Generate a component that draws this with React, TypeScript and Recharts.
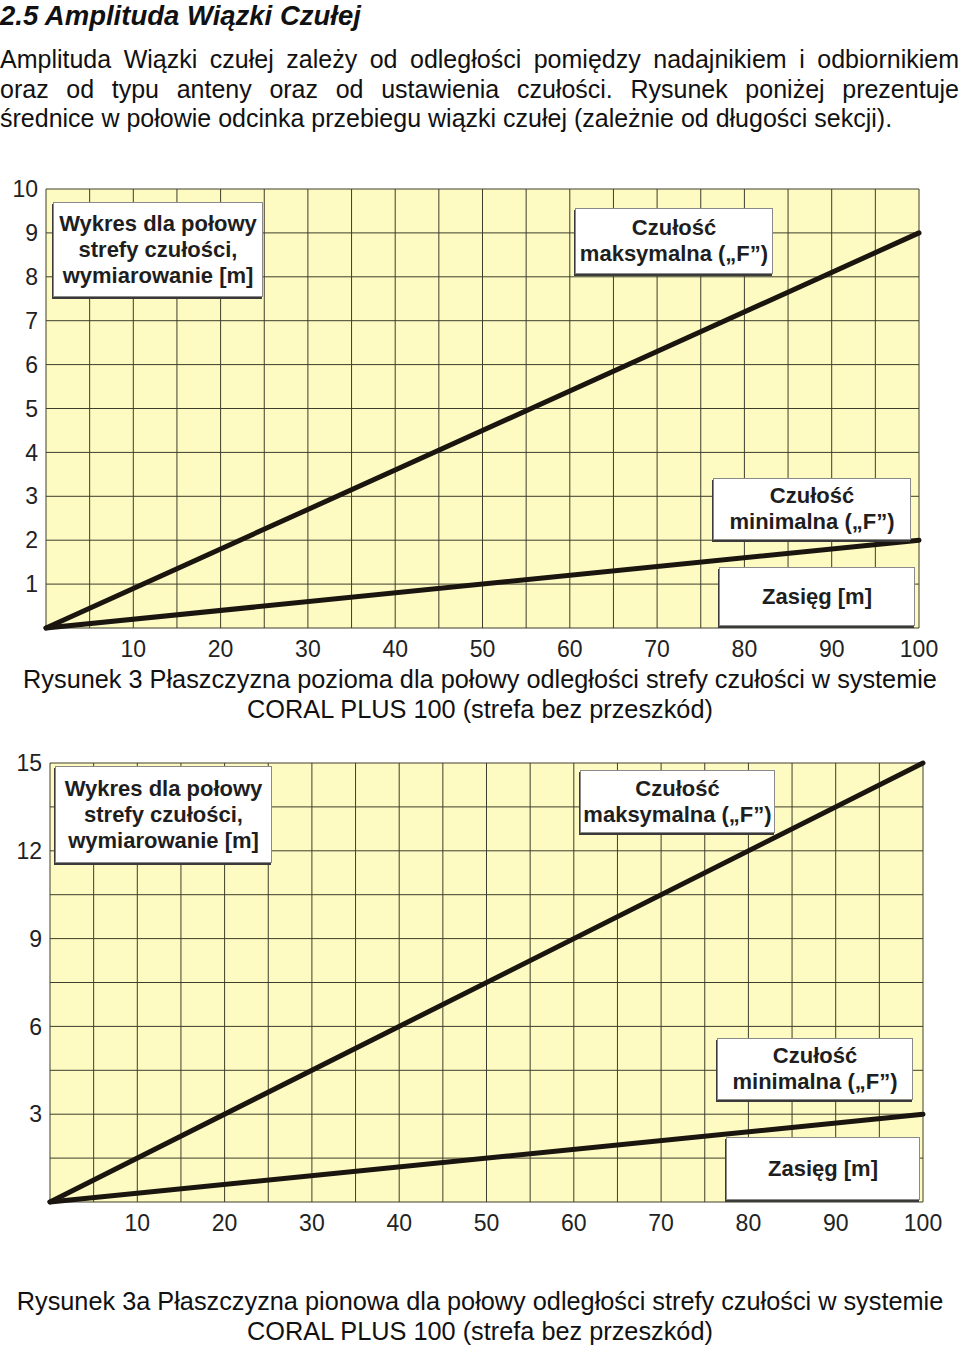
import React from "react";
import { LineChart, Line, XAxis, YAxis, CartesianGrid } from "recharts";

// odległość [m] - punkty końcowe prostych
const DIST = [0, 100];

// Rysunek 3 - płaszczyzna pozioma
const MAX_H = [0, 9];
const MIN_H = [0, 2];

// Rysunek 3a - płaszczyzna pionowa
const MAX_V = [0, 15];
const MIN_V = [0, 3];

const X_TICKS = [10, 20, 30, 40, 50, 60, 70, 80, 90, 100];
const X_GRID = [0, 5, 10, 15, 20, 25, 30, 35, 40, 45, 50, 55, 60, 65, 70, 75, 80, 85, 90, 95, 100];

const Y_TICKS_H = [1, 2, 3, 4, 5, 6, 7, 8, 9, 10];
const Y_GRID_H = [0, 1, 2, 3, 4, 5, 6, 7, 8, 9, 10];

const Y_TICKS_V = [3, 6, 9, 12, 15];
const Y_GRID_V = [0, 1.5, 3, 4.5, 6, 7.5, 9, 10.5, 12, 13.5, 15];

const FONT = "'Liberation Sans', Arial, Helvetica, sans-serif";
const tickStyle = { fontSize: 23, fill: "#222", fontFamily: FONT };

function Box({ left, top, width, height, lines }: any) {
  return (
    <div
      style={{
        position: "absolute",
        left,
        top,
        width,
        height,
        boxSizing: "border-box",
        background: "#fff",
        border: "1px solid #8a8a8a",
        boxShadow: "-1px 2px 0 #3a3a3a",
        display: "flex",
        flexDirection: "column",
        justifyContent: "center",
        alignItems: "center",
        fontFamily: FONT,
        fontWeight: "bold",
        fontSize: 22,
        lineHeight: "26px",
        color: "#1e1e1e",
        textAlign: "center",
        zIndex: 2
      }}
    >
      {lines.map((l: string, i: number) => (
        <div key={i}>{l}</div>
      ))}
    </div>
  );
}

function Chart({ top, maxV, minV, yMax, yTicks, yGrid, marginTop, marginRight, yWidth, xHeight }: any) {
  const rows = DIST.map((d, i) => ({ d, max: maxV[i], min: minV[i] }));
  return (
    <div style={{ position: "absolute", left: 0, top }}>
      <LineChart
        width={960}
        height={500}
        data={rows}
        margin={{ top: marginTop, right: marginRight, bottom: 0, left: 0 }}
      >
        <CartesianGrid
          fill="#fdfbc2"
          fillOpacity={1}
          stroke="#3e3e2c"
          strokeWidth={1}
          verticalValues={X_GRID}
          horizontalValues={yGrid}
        />
        <XAxis
          dataKey="d"
          type="number"
          domain={[0, 100]}
          ticks={X_TICKS}
          axisLine={false}
          tickLine={false}
          tickMargin={7}
          height={xHeight}
          tick={tickStyle}
          interval={0}
        />
        <YAxis
          type="number"
          domain={[0, yMax]}
          ticks={yTicks}
          axisLine={false}
          tickLine={false}
          width={yWidth}
          tick={tickStyle}
          interval={0}
        />
        <Line
          dataKey="max"
          type="linear"
          stroke="#1b150f"
          strokeWidth={5}
          strokeLinecap="round"
          dot={false}
          isAnimationActive={false}
        />
        <Line
          dataKey="min"
          type="linear"
          stroke="#1b150f"
          strokeWidth={5}
          strokeLinecap="round"
          dot={false}
          isAnimationActive={false}
        />
      </LineChart>
    </div>
  );
}

export default function App() {
  const line = { whiteSpace: "nowrap" as const, height: 29.5 };
  return (
    <div
      style={{
        position: "absolute",
        left: 0,
        top: 0,
        width: 960,
        height: 1346,
        overflow: "hidden",
        background: "#fff",
        fontFamily: FONT,
        color: "#111"
      }}
    >
      <div
        style={{
          position: "absolute",
          left: 0,
          top: 0,
          fontSize: 27.5,
          lineHeight: "31px",
          fontWeight: "bold",
          fontStyle: "italic"
        }}
      >
        2.5 Amplituda Wiązki Czułej
      </div>

      <div
        style={{
          position: "absolute",
          left: 0,
          top: 45,
          width: 959,
          fontSize: 25,
          lineHeight: "29.5px"
        }}
      >
        <div style={{ textAlign: "justify", textAlignLast: "justify" }}>
          Amplituda Wiązki czułej zależy od odległości pomiędzy nadajnikiem i odbiornikiem
        </div>
        <div style={{ textAlign: "justify", textAlignLast: "justify" }}>
          oraz od typu anteny oraz od ustawienia czułości. Rysunek poniżej prezentuje
        </div>
        <div style={line}>
          średnice w połowie odcinka przebiegu wiązki czułej (zależnie od długości sekcji).
        </div>
      </div>

      <Chart
        top={170}
        maxV={MAX_H}
        minV={MIN_H}
        yMax={10}
        yTicks={Y_TICKS_H}
        yGrid={Y_GRID_H}
        marginTop={19}
        marginRight={41}
        yWidth={46}
        xHeight={42}
      />
      <Box left={53} top={202} width={210} height={95} lines={["Wykres dla połowy", "strefy czułości,", "wymiarowanie [m]"]} />
      <Box left={575} top={208} width={198} height={66} lines={["Czułość", "maksymalna („F”)"]} />
      <Box left={713} top={478} width={198} height={62} lines={["Czułość", "minimalna („F”)"]} />
      <Box left={719} top={567} width={196} height={59} lines={["Zasięg [m]"]} />

      <div
        style={{
          position: "absolute",
          left: 0,
          top: 664,
          width: 960,
          fontSize: 25.3,
          lineHeight: "30px",
          textAlign: "center"
        }}
      >
        <div>Rysunek 3 Płaszczyzna pozioma dla połowy odległości strefy czułości w systemie</div>
        <div>CORAL PLUS 100 (strefa bez przeszkód)</div>
      </div>

      <Chart
        top={745}
        maxV={MAX_V}
        minV={MIN_V}
        yMax={15}
        yTicks={Y_TICKS_V}
        yGrid={Y_GRID_V}
        marginTop={18}
        marginRight={37}
        yWidth={50}
        xHeight={43}
      />
      <Box left={55} top={766} width={217} height={97} lines={["Wykres dla połowy", "strefy czułości,", "wymiarowanie [m]"]} />
      <Box left={580} top={770} width={195} height={63} lines={["Czułość", "maksymalna („F”)"]} />
      <Box left={717} top={1038} width={196} height={62} lines={["Czułość", "minimalna („F”)"]} />
      <Box left={726} top={1137} width={194} height={63} lines={["Zasięg [m]"]} />

      <div
        style={{
          position: "absolute",
          left: 0,
          top: 1287,
          width: 960,
          fontSize: 25.3,
          lineHeight: "29.5px",
          textAlign: "center"
        }}
      >
        <div>Rysunek 3a Płaszczyzna pionowa dla połowy odległości strefy czułości w systemie</div>
        <div>CORAL PLUS 100 (strefa bez przeszkód)</div>
      </div>
    </div>
  );
}
